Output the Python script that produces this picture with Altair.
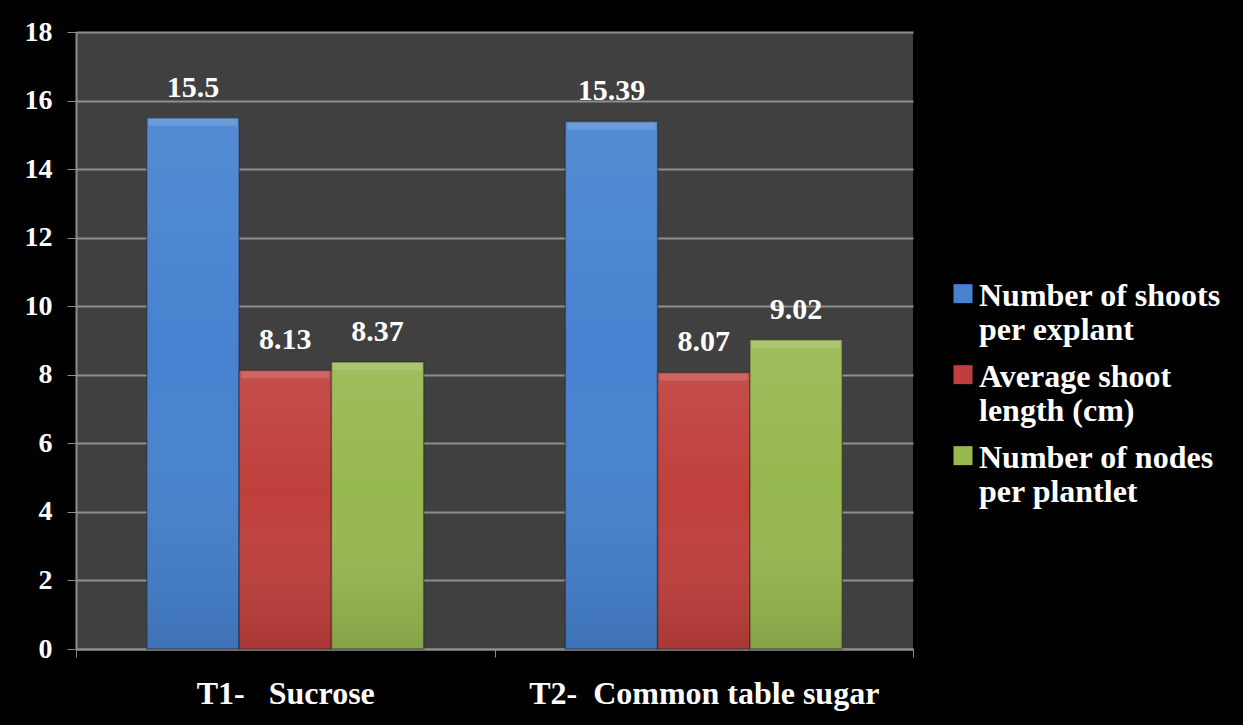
import altair as alt
import pandas as pd

NB = "\u00a0"
treatments = ["T1-" + NB * 3 + "Sucrose", "T2-" + NB * 2 + "Common table sugar"]
series = ["Number of shoots|per explant", "Average shoot|length (cm)", "Number of nodes|per plantlet"]
t1_values = [15.5, 8.13, 8.37]
t2_values = [15.39, 8.07, 9.02]
y_ticks = list(range(0, 19, 2))
colors = ["#4682d0", "#bf3f3c", "#98b850"]

rows = []
for t, vals in zip(treatments, [t1_values, t2_values]):
    for s, v in zip(series, vals):
        rows.append({"treatment": t, "series": s, "value": v})
df = pd.DataFrame(rows)

FONT = "Liberation Serif"
AXIS_GREY = "#8e8e8e"

x_enc = alt.X("treatment:N", sort=treatments, title=None,
              scale=alt.Scale(paddingInner=0, paddingOuter=0),
              axis=alt.Axis(labelAngle=0, labelFontSize=32, labelFont=FONT, labelFontWeight="bold",
                            labelColor="white", labelPadding=21, labelLimit=600, tickBand="extent", tickSize=8,
                            tickColor=AXIS_GREY, domainColor=AXIS_GREY, domainWidth=2, grid=False))
xoff = alt.XOffset("series:N", sort=series, scale=alt.Scale(paddingInner=0, paddingOuter=0.767))
y_enc = alt.Y("value:Q", title=None,
              scale=alt.Scale(domain=[0, 18], nice=False),
              axis=alt.Axis(values=y_ticks, labelFontSize=28, labelFont=FONT, labelFontWeight="bold",
                            labelColor="white", labelPadding=15, tickSize=9, tickColor=AXIS_GREY,
                            domainColor=AXIS_GREY, domainWidth=2, gridColor=AXIS_GREY, gridWidth=2))

base = alt.Chart(df).encode(x=x_enc, xOffset=xoff, y=y_enc)

# legend swatch raised so it sits beside the first line of each label
swatch = "M-1,-2.3H1V-0.3H-1Z"

bars = base.mark_bar(stroke="#1e1e1e", strokeOpacity=0.45, strokeWidth=1.5).encode(
    color=alt.Color("series:N", sort=series,
                    scale=alt.Scale(domain=series, range=colors),
                    legend=alt.Legend(title=None, orient="none", legendX=871, legendY=258,
                                      labelExpr="split(datum.label, '|')",
                                      labelFont=FONT, labelFontSize=32, labelFontWeight="bold",
                                      labelColor="white", labelBaseline="alphabetic", labelLimit=400,
                                      symbolType=swatch, symbolSize=361, symbolStrokeWidth=0,
                                      symbolOffset=0, labelOffset=0, rowPadding=15))
)

# soft vertical shading over each bar
shade = base.mark_bar(
    fill=alt.Gradient(gradient="linear", x1=0, x2=0, y1=0, y2=1,
                      stops=[alt.GradientStop(color="rgba(255,255,255,0.08)", offset=0),
                             alt.GradientStop(color="rgba(255,255,255,0.0)", offset=0.45),
                             alt.GradientStop(color="rgba(0,0,0,0.12)", offset=1)])
)

# light bevel along the top edge of each bar
bevel = base.mark_tick(thickness=7, size=88, yOffset=4.5, color="white", opacity=0.14)

labels = base.mark_text(dy=-21, baseline="alphabetic", font=FONT, fontSize=30,
                        fontWeight="bold", color="white").encode(text=alt.Text("value:Q"))

chart = alt.layer(bars, shade, bevel, labels).properties(
    width=837, height=617, background="black",
    padding={"left": 76, "top": 32, "right": 330, "bottom": 76},
    autosize=alt.AutoSizeParams(type="none"),
).configure_view(fill="#404040", stroke=None)

chart.save("out.html", embed_options={"renderer": "svg", "actions": False})
